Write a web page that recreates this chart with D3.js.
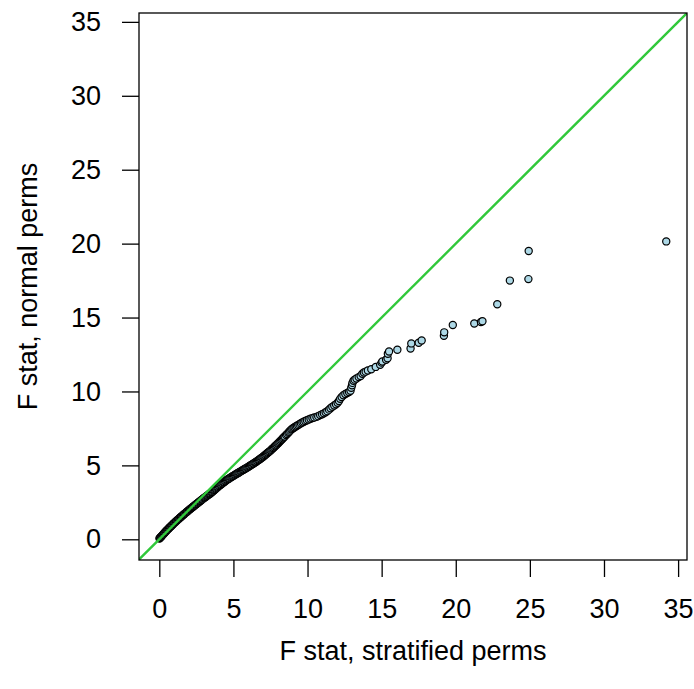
<!DOCTYPE html>
<html>
<head>
<meta charset="utf-8">
<script src="https://cdn.jsdelivr.net/npm/d3@7"></script>
<style>
  body { margin: 0; background: #fff; }
  svg { display: block; }
  text { font-family: "Liberation Sans", Arial, sans-serif; }
</style>
</head>
<body>
<svg id="chart" width="694" height="689"></svg>
<script>
// Sorted F statistics: stratified permutations (x) vs normal permutations (y)
const stratifiedF = [
  0.01,0.04,0.08,0.12,0.15,0.19,0.24,0.28,0.31,0.36,0.40,0.44,0.49,0.53,0.57,0.62,0.66,0.71,0.75,0.80,0.84,0.89,0.94,0.98,
  1.03,1.08,1.12,1.17,1.22,1.27,1.31,1.36,1.41,1.46,1.51,1.56,1.61,1.66,1.71,1.76,1.81,1.86,1.91,1.96,
  2.01,2.06,2.11,2.16,2.21,2.26,2.31,2.36,2.41,2.46,2.51,2.56,2.61,2.66,2.71,2.76,2.81,2.86,2.91,2.96,
  3.01,3.06,3.11,3.16,3.21,3.26,3.31,3.36,3.41,3.46,3.51,3.56,3.61,3.66,3.71,3.76,3.81,3.86,3.91,3.96,
  4.02,4.08,4.14,4.20,4.26,4.32,4.38,4.44,4.50,4.56,4.62,4.68,4.74,4.80,4.86,4.92,4.98,
  5.04,5.10,5.16,5.22,5.28,5.34,5.40,5.46,5.52,5.58,5.64,5.70,5.76,5.82,5.88,5.94,6.00,
  6.06,6.12,6.18,6.24,6.30,6.36,6.42,6.48,6.54,6.60,6.66,6.72,6.78,6.84,6.90,6.96,
  7.02,7.08,7.14,7.20,7.26,7.32,7.38,7.44,7.50,7.56,7.62,7.68,7.74,7.80,7.86,7.92,7.98,
  8.04,8.10,8.16,8.22,8.28,8.34,8.40,8.46,
  8.55,8.62,8.70,8.76,8.83,8.90,8.97,9.05,9.12,9.20,9.28,9.37,9.46,9.55,9.65,9.74,9.85,9.96,
  10.08,10.20,10.33,10.45,10.60,10.72,10.85,10.98,11.10,11.22,11.33,11.45,11.55,11.67,11.80,11.92,
  12.03,12.12,12.20,12.30,12.42,12.55,12.68,12.80,12.90,12.95,13.00,13.03,13.10,13.18,13.30,13.45,
  13.58,13.70,13.80,13.92,14.07,14.30,14.60,14.90,15.00,15.05,15.30,15.40,15.42,15.50,16.06,16.95,
  17.00,17.50,17.70,19.20,19.22,19.80,21.25,21.70,21.80,22.80,23.65,24.90,24.92,34.20
];
const normalF = [
  0.05,0.09,0.13,0.17,0.21,0.25,0.31,0.35,0.39,0.44,0.49,0.53,0.59,0.63,0.67,0.72,0.76,0.81,0.85,0.90,0.94,0.99,1.04,1.08,
  1.13,1.17,1.21,1.25,1.30,1.34,1.38,1.42,1.47,1.51,1.56,1.60,1.64,1.69,1.73,1.77,1.82,1.86,1.90,1.94,
  1.99,2.03,2.07,2.11,2.15,2.19,2.23,2.27,2.31,2.35,2.39,2.43,2.47,2.51,2.55,2.59,2.63,2.67,2.71,2.75,
  2.79,2.82,2.86,2.90,2.94,2.97,3.01,3.05,3.08,3.12,3.16,3.20,3.24,3.29,3.33,3.37,3.42,3.46,3.50,3.55,
  3.60,3.65,3.69,3.74,3.79,3.84,3.88,3.93,3.98,4.02,4.06,4.10,4.13,4.17,4.21,4.25,4.29,
  4.32,4.36,4.40,4.43,4.47,4.50,4.54,4.58,4.61,4.65,4.68,4.72,4.76,4.79,4.83,4.86,4.90,
  4.94,4.98,5.02,5.05,5.09,5.13,5.17,5.21,5.25,5.29,5.34,5.38,5.42,5.47,5.51,5.55,
  5.60,5.65,5.70,5.75,5.80,5.85,5.90,5.95,6.00,6.06,6.12,6.17,6.23,6.29,6.35,6.40,6.46,
  6.52,6.58,6.65,6.71,6.77,6.83,6.90,6.96,
  7.05,7.12,7.20,7.28,7.35,7.42,7.48,7.53,7.58,7.63,7.68,7.73,7.79,7.85,7.90,7.95,8.00,8.05,
  8.10,8.15,8.20,8.24,8.28,8.33,8.40,8.46,8.52,8.60,8.67,8.77,8.87,8.96,9.05,9.13,
  9.24,9.36,9.50,9.62,9.74,9.83,9.90,9.97,10.05,10.25,10.42,10.58,10.72,10.80,10.88,10.97,
  11.05,11.20,11.28,11.34,11.42,11.50,11.66,11.80,11.95,12.03,12.15,12.25,12.55,12.70,12.82,12.90,
  13.25,13.30,13.45,13.77,14.00,14.50,14.60,14.70,14.75,15.90,17.50,17.60,19.50,20.15
];
const xTicks = [0, 5, 10, 15, 20, 25, 30, 35];
const yTicks = [0, 5, 10, 15, 20, 25, 30, 35];
const xLabel = "F stat, stratified perms";
const yLabel = "F stat, normal perms";

const svg = d3.select("#chart");
const plot = { left: 139, right: 687, top: 13, bottom: 560 };
const fontSize = 27;

const x = d3.scaleLinear().domain([-1.37, 35.6]).range([plot.left, plot.right]);
const y = d3.scaleLinear().domain([-1.40, 35.6]).range([plot.bottom, plot.top]);

const points = stratifiedF.map((v, i) => ({ x: v, y: normalF[i] }));

// axes
const xAxis = svg.append("g")
  .attr("transform", `translate(0,${plot.bottom})`)
  .call(d3.axisBottom(x).tickValues(xTicks).tickSize(17).tickPadding(22).tickFormat(d3.format("d")));
const yAxis = svg.append("g")
  .attr("transform", `translate(${plot.left},0)`)
  .call(d3.axisLeft(y).tickValues(yTicks).tickSize(17).tickPadding(21).tickFormat(d3.format("d")));
[xAxis, yAxis].forEach(g => {
  g.select(".domain").remove();
  g.selectAll(".tick line").attr("stroke", "#000").attr("stroke-width", 1.3);
  g.selectAll(".tick text").attr("font-size", fontSize).attr("fill", "#000")
    .style("font-family", '"Liberation Sans", Arial, sans-serif');
});

// clip for plot region
svg.append("clipPath").attr("id", "clip")
  .append("rect")
  .attr("x", plot.left).attr("y", plot.top)
  .attr("width", plot.right - plot.left).attr("height", plot.bottom - plot.top);

const g = svg.append("g").attr("clip-path", "url(#clip)");

g.selectAll("circle.pt")
  .data(points)
  .join("circle")
  .attr("class", "pt")
  .attr("cx", d => x(d.x))
  .attr("cy", d => y(d.y))
  .attr("r", 3.6)
  .attr("fill", "#ADD8E6")
  .attr("stroke", "#000")
  .attr("stroke-width", 1.2);

// y = x reference line
const dom = x.domain();
g.append("line")
  .attr("x1", x(dom[0])).attr("y1", y(dom[0]))
  .attr("x2", x(dom[1])).attr("y2", y(dom[1]))
  .attr("stroke", "#30C83A")
  .attr("stroke-width", 2.4);

// box
svg.append("rect")
  .attr("x", plot.left).attr("y", plot.top)
  .attr("width", plot.right - plot.left).attr("height", plot.bottom - plot.top)
  .attr("fill", "none").attr("stroke", "#000").attr("stroke-width", 1.3);

// axis titles
svg.append("text")
  .attr("x", (plot.left + plot.right) / 2)
  .attr("y", 660)
  .attr("text-anchor", "middle")
  .attr("font-size", fontSize)
  .text(xLabel);
svg.append("text")
  .attr("transform", `translate(37,${(plot.top + plot.bottom) / 2}) rotate(-90)`)
  .attr("text-anchor", "middle")
  .attr("font-size", fontSize)
  .text(yLabel);
</script>
</body>
</html>
